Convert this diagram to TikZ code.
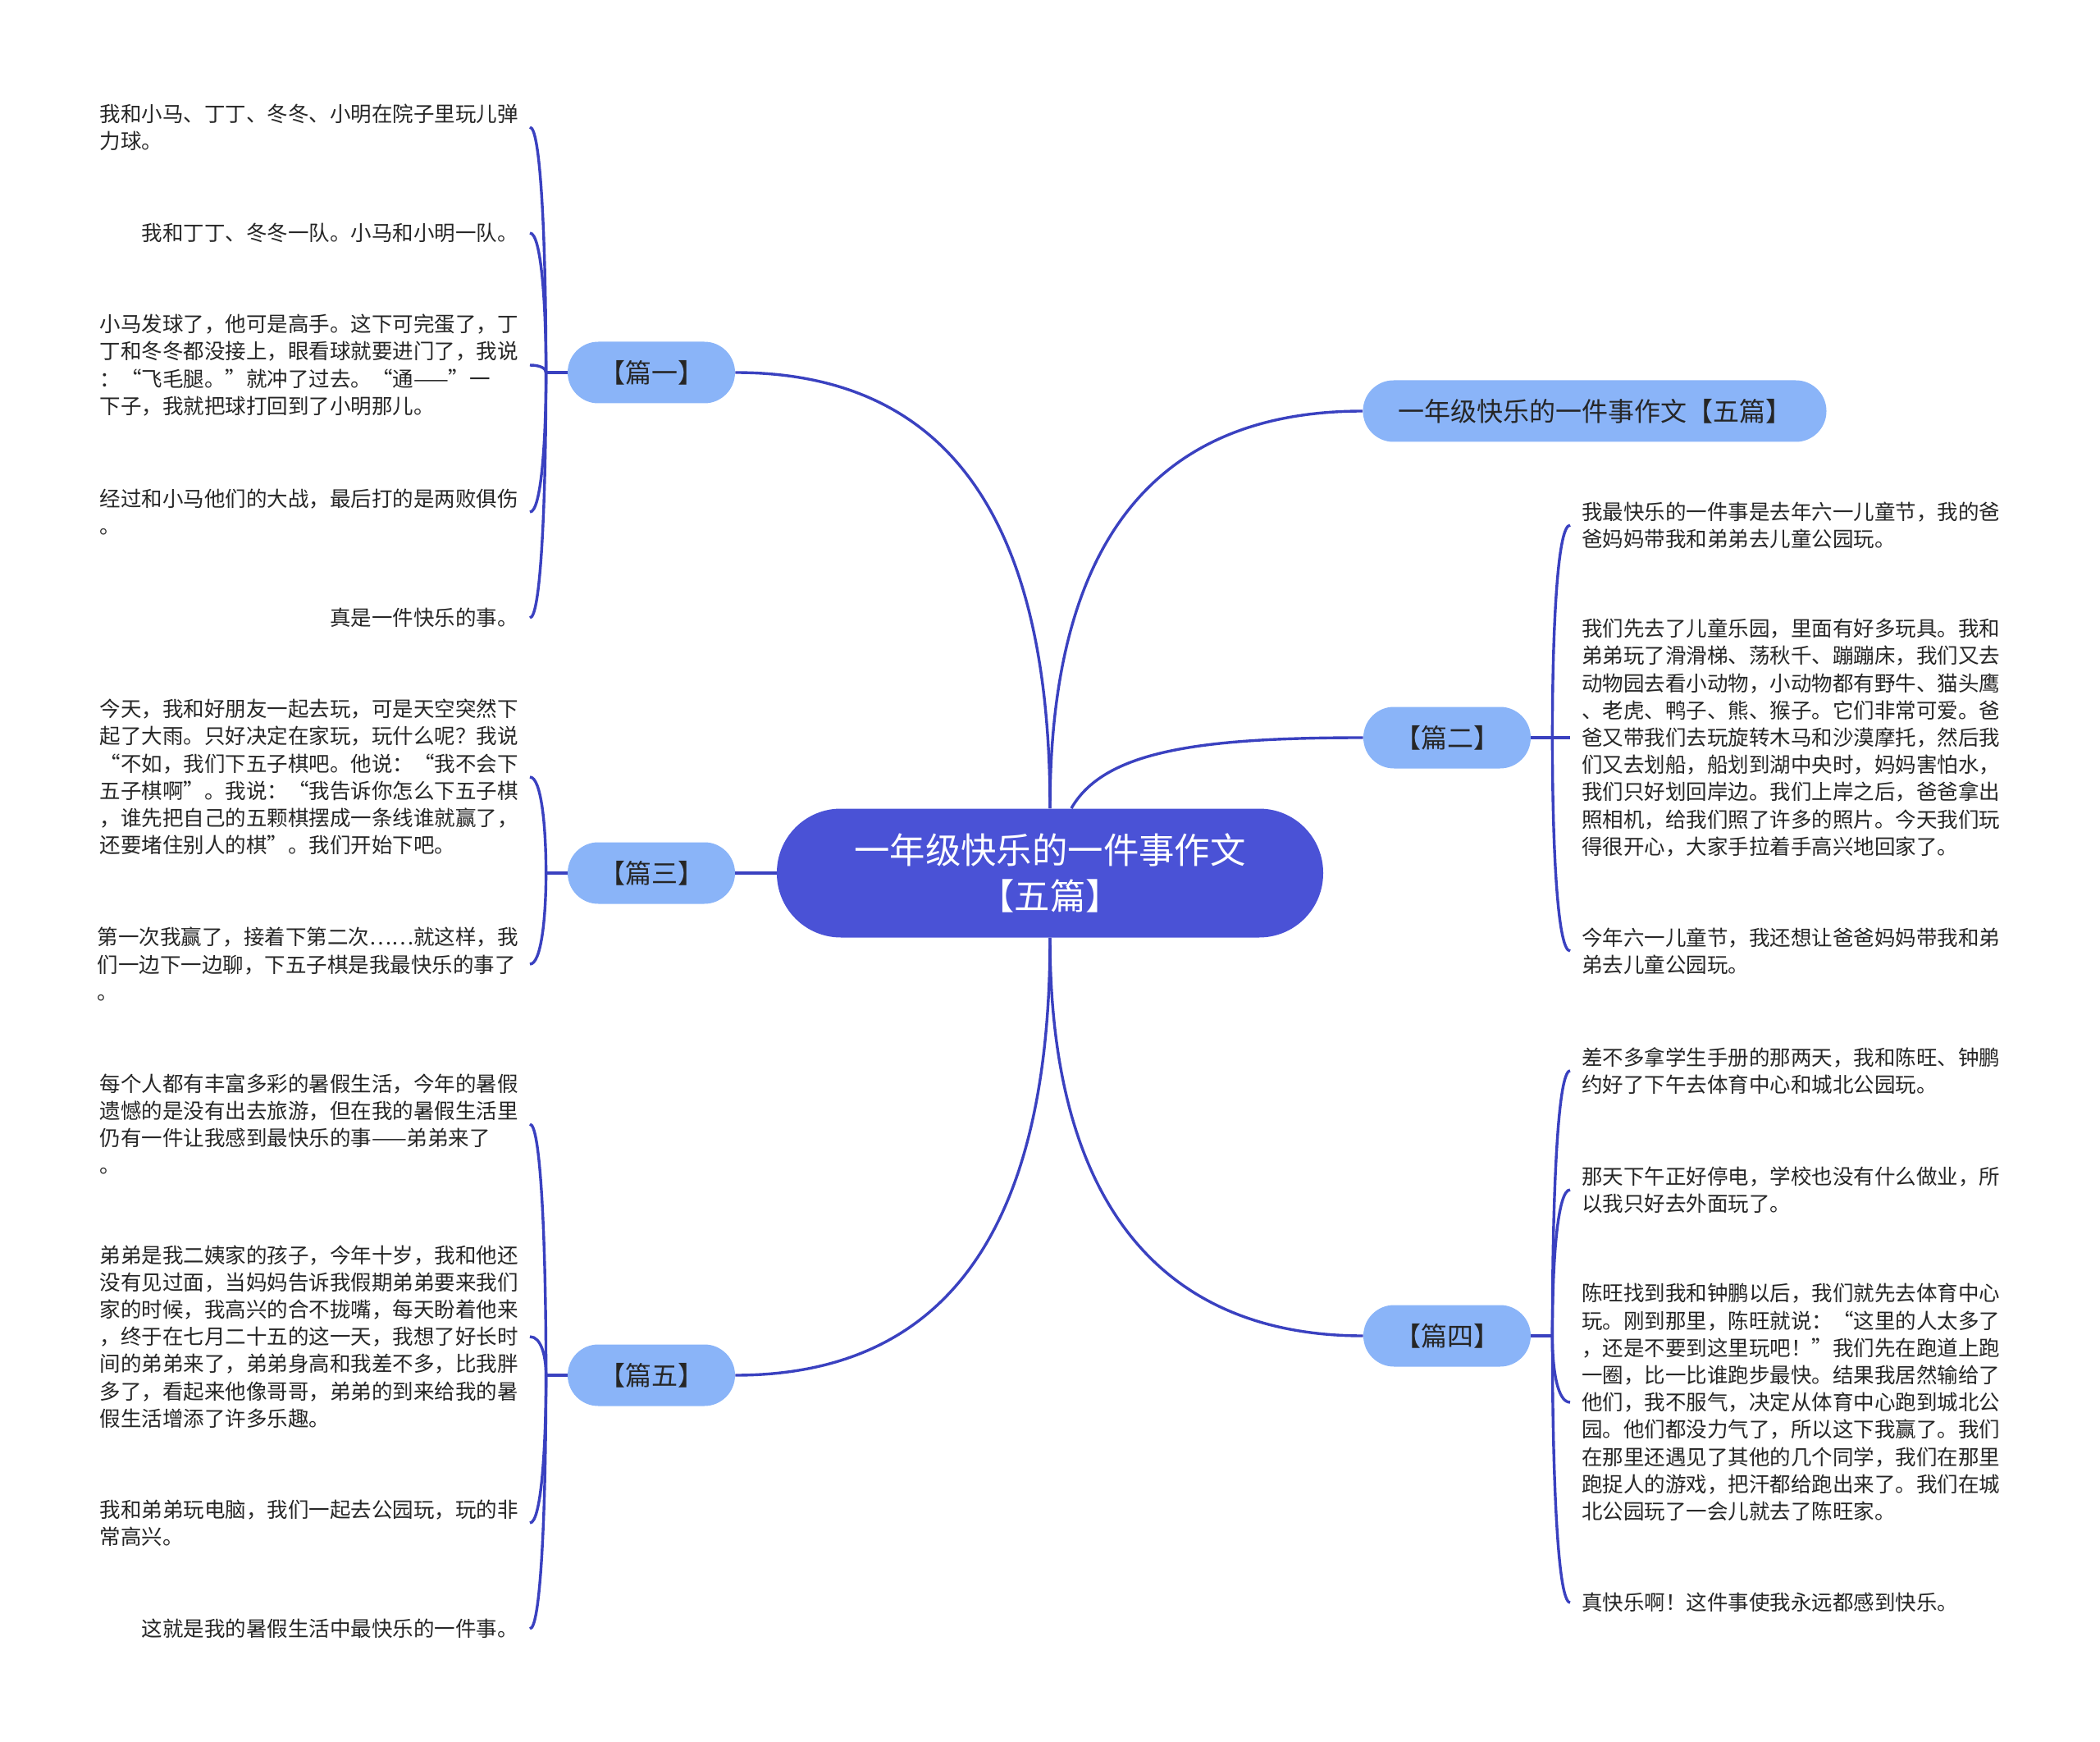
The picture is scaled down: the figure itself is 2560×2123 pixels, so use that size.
\documentclass[tikz,border=0pt]{standalone}
\usepackage{fontspec}
\newfontfamily\cjk{Noto Sans CJK SC}
\usepackage{tikz}
\usetikzlibrary{positioning,calc}
\definecolor{rootblue}{HTML}{4A52D6}
\definecolor{nodeblue}{HTML}{8AB4F8}
\definecolor{linkblue}{HTML}{3A41C0}
\definecolor{inkgray}{HTML}{262626}

\begin{document}
\begin{tikzpicture}[x=0.5pt,y=-0.5pt]
    \tikzstyle{root}=[rectangle,rounded corners=39pt,fill=rootblue,text=white,align=center,minimum width=333pt,minimum height=78.5pt,font=\cjk\fontsize{21.7pt}{27.8pt}\selectfont]
    \tikzstyle{topic}=[rectangle,rounded corners=18.7pt,fill=nodeblue,text=inkgray,minimum width=102pt,minimum height=37.5pt,font=\cjk\fontsize{16pt}{20pt}\selectfont]
    \tikzstyle{leaf}=[align=left,inner xsep=7pt,text=inkgray,font=\cjk\fontsize{12.75pt}{16.6pt}\selectfont]
    \tikzstyle{link}=[draw=linkblue,line width=1.7pt]
    \useasboundingbox (0,0) rectangle (2560,2123);

    % centre and the six topics
    \node[root] (root) at (1280,1064) {一年级快乐的一件事作文\\【五篇】};
    \node[topic] (p1) at (794,454) {【篇一】};
    \node[topic] (p3) at (794,1064) {【篇三】};
    \node[topic] (p5) at (794,1676) {【篇五】};
    \node[topic,minimum width=282.5pt] (head) at (1944,501) {一年级快乐的一件事作文【五篇】};
    \node[topic] (p2) at (1764,899) {【篇二】};
    \node[topic] (p4) at (1764,1628) {【篇四】};

    % 篇一
    \node[leaf,anchor=east] (a1) at (646,155) {我和小马、丁丁、冬冬、小明在院子里玩儿弹\\力球。};
    \node[leaf,anchor=east] (a2) at (646,284) {我和丁丁、冬冬一队。小马和小明一队。};
    \node[leaf,anchor=east] (a3) at (646,445) {小马发球了，他可是高手。这下可完蛋了，丁\\丁和冬冬都没接上，眼看球就要进门了，我说\\：“飞毛腿。”就冲了过去。“通——”一\\下子，我就把球打回到了小明那儿。};
    \node[leaf,anchor=east] (a4) at (646,624) {经过和小马他们的大战，最后打的是两败俱伤\\。};
    \node[leaf,anchor=east] (a5) at (646,753) {真是一件快乐的事。};

    % 篇三
    \node[leaf,anchor=east] (c1) at (646,947) {今天，我和好朋友一起去玩，可是天空突然下\\起了大雨。只好决定在家玩，玩什么呢？我说\\“不如，我们下五子棋吧。他说：“我不会下\\五子棋啊”。我说：“我告诉你怎么下五子棋\\，谁先把自己的五颗棋摆成一条线谁就赢了，\\还要堵住别人的棋”。我们开始下吧。};
    \node[leaf,anchor=east] (c2) at (646,1175) {第一次我赢了，接着下第二次……就这样，我\\们一边下一边聊，下五子棋是我最快乐的事了\\。};

    % 篇五
    \node[leaf,anchor=east] (e1) at (646,1370) {每个人都有丰富多彩的暑假生活，今年的暑假\\遗憾的是没有出去旅游，但在我的暑假生活里\\仍有一件让我感到最快乐的事——弟弟来了\\。};
    \node[leaf,anchor=east] (e2) at (646,1629) {弟弟是我二姨家的孩子，今年十岁，我和他还\\没有见过面，当妈妈告诉我假期弟弟要来我们\\家的时候，我高兴的合不拢嘴，每天盼着他来\\，终于在七月二十五的这一天，我想了好长时\\间的弟弟来了，弟弟身高和我差不多，比我胖\\多了，看起来他像哥哥，弟弟的到来给我的暑\\假生活增添了许多乐趣。};
    \node[leaf,anchor=east] (e3) at (646,1856) {我和弟弟玩电脑，我们一起去公园玩，玩的非\\常高兴。};
    \node[leaf,anchor=east] (e4) at (646,1985) {这就是我的暑假生活中最快乐的一件事。};

    % 篇二
    \node[leaf,anchor=west] (b1) at (1914,640) {我最快乐的一件事是去年六一儿童节，我的爸\\爸妈妈带我和弟弟去儿童公园玩。};
    \node[leaf,anchor=west] (b2) at (1914,899) {我们先去了儿童乐园，里面有好多玩具。我和\\弟弟玩了滑滑梯、荡秋千、蹦蹦床，我们又去\\动物园去看小动物，小动物都有野牛、猫头鹰\\、老虎、鸭子、熊、猴子。它们非常可爱。爸\\爸又带我们去玩旋转木马和沙漠摩托，然后我\\们又去划船，船划到湖中央时，妈妈害怕水，\\我们只好划回岸边。我们上岸之后，爸爸拿出\\照相机，给我们照了许多的照片。今天我们玩\\得很开心，大家手拉着手高兴地回家了。};
    \node[leaf,anchor=west] (b3) at (1914,1159) {今年六一儿童节，我还想让爸爸妈妈带我和弟\\弟去儿童公园玩。};

    % 篇四
    \node[leaf,anchor=west] (d1) at (1914,1305) {差不多拿学生手册的那两天，我和陈旺、钟鹏\\约好了下午去体育中心和城北公园玩。};
    \node[leaf,anchor=west] (d2) at (1914,1450) {那天下午正好停电，学校也没有什么做业，所\\以我只好去外面玩了。};
    \node[leaf,anchor=west] (d3) at (1914,1709) {陈旺找到我和钟鹏以后，我们就先去体育中心\\玩。刚到那里，陈旺就说：“这里的人太多了\\，还是不要到这里玩吧！”我们先在跑道上跑\\一圈，比一比谁跑步最快。结果我居然输给了\\他们，我不服气，决定从体育中心跑到城北公\\园。他们都没力气了，所以这下我赢了。我们\\在那里还遇见了其他的几个同学，我们在那里\\跑捉人的游戏，把汗都给跑出来了。我们在城\\北公园玩了一会儿就去了陈旺家。};
    \node[leaf,anchor=west] (d4) at (1914,1953) {真快乐啊！这件事使我永远都感到快乐。};

    % centre to topics
    \draw[link] (root.north) .. controls ($(root.north)+(0,-386)$) and ($(p1.east)+(234,0)$) .. (p1.east);
    \draw[link] (root.west) -- (p3.east);
    \draw[link] (root.south) .. controls ($(root.south)+(0,386)$) and ($(p5.east)+(234,0)$) .. (p5.east);
    \draw[link] (root.north) .. controls ($(root.north)+(0,-350)$) and ($(head.west)+(-232,0)$) .. (head.west);
    \draw[link] ([xshift=13pt]root.north) .. controls ($([xshift=13pt]root.north)+(40,-70)$) and ($(p2.west)+(-200,0)$) .. (p2.west);
    \draw[link] (root.south) .. controls ($(root.south)+(0,340)$) and ($(p4.west)+(-232,0)$) .. (p4.west);

    % topics to leaves
    \coordinate (j1) at ([xshift=-13pt]p1.west);
    \coordinate (j3) at ([xshift=-13pt]p3.west);
    \coordinate (j5) at ([xshift=-13pt]p5.west);
    \coordinate (j2) at ([xshift=13pt]p2.east);
    \coordinate (j4) at ([xshift=13pt]p4.east);
    \draw[link] (p1.west) -- (j1);
    \draw[link] (p3.west) -- (j3);
    \draw[link] (p5.west) -- (j5);
    \draw[link] (p2.east) -- (j2);
    \draw[link] (p4.east) -- (j4);
    \foreach \l in {a1,a2,a3,a4,a5}
      \draw[link] (j1) .. controls ($(j1)!0.5!(j1 |- \l.east)$) and ($(j1 |- \l.east)+(-6,0)$) .. (\l.east);
    \foreach \l in {c1,c2}
      \draw[link] (j3) .. controls ($(j3)!0.5!(j3 |- \l.east)$) and ($(j3 |- \l.east)+(-6,0)$) .. (\l.east);
    \foreach \l in {e1,e2,e3,e4}
      \draw[link] (j5) .. controls ($(j5)!0.5!(j5 |- \l.east)$) and ($(j5 |- \l.east)+(-6,0)$) .. (\l.east);
    \foreach \l in {b1,b2,b3}
      \draw[link] (j2) .. controls ($(j2)!0.5!(j2 |- \l.west)$) and ($(j2 |- \l.west)+(6,0)$) .. (\l.west);
    \foreach \l in {d1,d2,d3,d4}
      \draw[link] (j4) .. controls ($(j4)!0.5!(j4 |- \l.west)$) and ($(j4 |- \l.west)+(6,0)$) .. (\l.west);
\end{tikzpicture}
\end{document}
